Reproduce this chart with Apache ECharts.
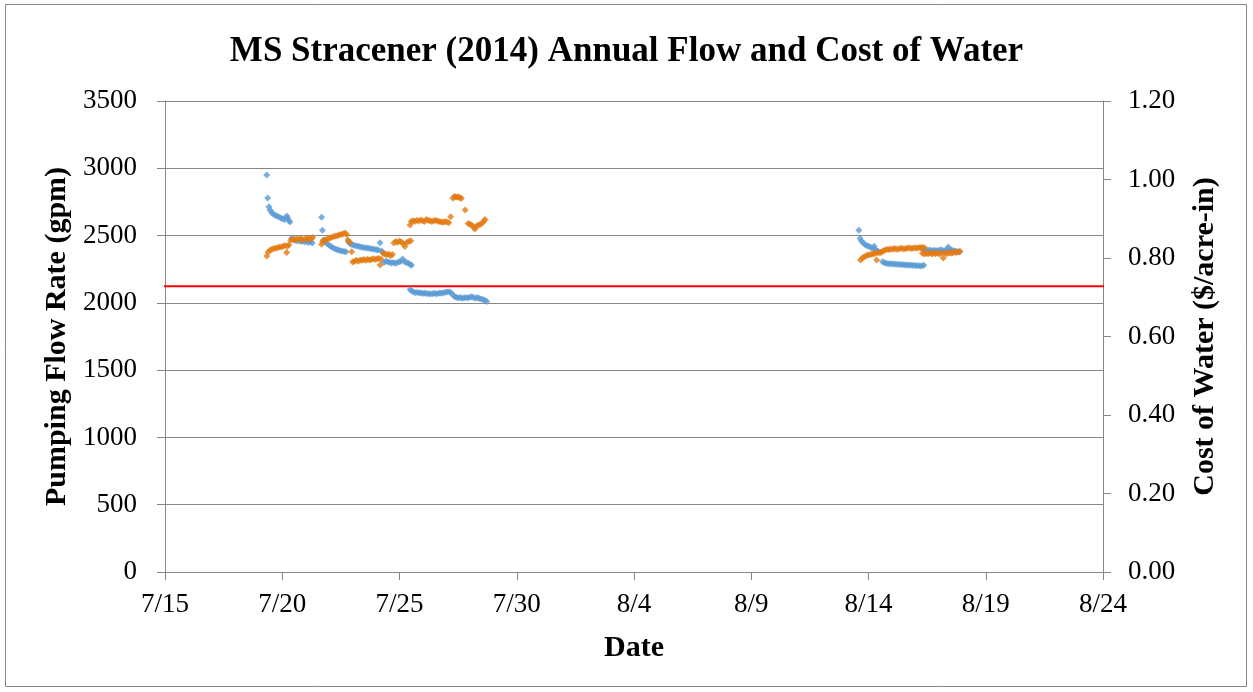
<!DOCTYPE html>
<html>
<head>
<meta charset="utf-8">
<script src="https://cdn.jsdelivr.net/npm/echarts@6/dist/echarts.min.js"></script>
<style>
  html, body { margin: 0; padding: 0; background: #ffffff; }
  #chart { width: 1253px; height: 692px; }
</style>
</head>
<body>
<div id="chart"></div>
<script>
// Time is counted in days from 2014-07-15 00:00.
const startDate = [2014, 6, 15];

// Pumping flow rate (gpm), July run
const flowJul = [
  [4.34, 2950], [4.38, 2780], [4.43, 2715], [4.48, 2690], [4.55, 2672], [4.62, 2660],
  [4.70, 2650], [4.78, 2645], [4.86, 2638], [4.94, 2630], [5.02, 2625], [5.10, 2620],
  [5.19, 2645], [5.23, 2632], [5.28, 2612], [5.33, 2600],
  [5.40, 2480], [5.48, 2472], [5.56, 2465], [5.64, 2460], [5.72, 2466], [5.80, 2456],
  [5.88, 2460], [5.96, 2452], [6.04, 2458], [6.12, 2448], [6.20, 2454], [6.28, 2445],
  [6.68, 2636], [6.71, 2540], [6.76, 2468], [6.84, 2452], [6.92, 2440], [7.00, 2428],
  [7.08, 2418], [7.16, 2410], [7.24, 2402], [7.32, 2396], [7.40, 2392], [7.48, 2388],
  [7.56, 2385], [7.64, 2382], [7.72, 2380],
  [7.82, 2455], [7.90, 2440], [7.98, 2432], [8.06, 2428], [8.14, 2425], [8.22, 2420],
  [8.30, 2418], [8.38, 2414], [8.46, 2412], [8.54, 2410], [8.62, 2408], [8.70, 2405],
  [8.78, 2402], [8.86, 2400], [8.94, 2398], [9.02, 2395], [9.10, 2392], [9.17, 2447],
  [9.24, 2385], [9.30, 2370],
  [9.34, 2300], [9.42, 2310], [9.50, 2305], [9.58, 2300], [9.66, 2296], [9.74, 2300],
  [9.82, 2295], [9.90, 2298], [9.98, 2305], [10.06, 2310], [10.14, 2325], [10.22, 2305],
  [10.30, 2300], [10.38, 2295], [10.46, 2285], [10.51, 2280],
  [10.45, 2100], [10.52, 2088], [10.60, 2080], [10.68, 2076], [10.76, 2078], [10.84, 2073],
  [10.92, 2076], [11.00, 2070], [11.08, 2073], [11.16, 2068], [11.24, 2070], [11.32, 2066],
  [11.40, 2068], [11.48, 2072], [11.56, 2068], [11.64, 2070], [11.72, 2074], [11.80, 2072],
  [11.88, 2076], [11.96, 2078], [12.04, 2080], [12.12, 2082], [12.20, 2076],
  [12.28, 2058], [12.36, 2045], [12.44, 2040], [12.52, 2038], [12.60, 2040], [12.68, 2035],
  [12.76, 2038], [12.84, 2040], [12.92, 2036], [13.00, 2042], [13.08, 2045], [13.16, 2040],
  [13.24, 2035], [13.32, 2040], [13.40, 2032], [13.48, 2028], [13.56, 2025], [13.64, 2020],
  [13.72, 2010]
];

// Pumping flow rate (gpm), August run
const flowAug = [
  [29.59, 2540], [29.64, 2480], [29.70, 2460], [29.78, 2445], [29.86, 2432], [29.94, 2425],
  [30.02, 2420], [30.10, 2412], [30.18, 2405], [30.24, 2420], [30.30, 2395], [30.36, 2388],
  [30.42, 2382],
  [30.60, 2305], [30.68, 2298], [30.76, 2294], [30.84, 2291], [30.92, 2290], [31.00, 2291],
  [31.08, 2287], [31.16, 2289], [31.24, 2285], [31.32, 2287], [31.40, 2283], [31.48, 2285],
  [31.56, 2281], [31.64, 2284], [31.72, 2279], [31.80, 2281], [31.88, 2277], [31.96, 2279],
  [32.04, 2275], [32.12, 2277], [32.20, 2274], [32.28, 2276], [32.36, 2280],
  [32.30, 2398], [32.38, 2394], [32.46, 2392], [32.54, 2390], [32.62, 2392], [32.70, 2388],
  [32.78, 2390], [32.86, 2387], [32.94, 2389], [33.02, 2391], [33.10, 2395], [33.18, 2387],
  [33.26, 2388], [33.34, 2392], [33.40, 2415], [33.48, 2394], [33.56, 2390], [33.64, 2387],
  [33.72, 2384], [33.80, 2380], [33.88, 2377]
];

// Cost of water ($/acre-in), July run
const costJul = [
  [4.34, 0.805], [4.40, 0.815], [4.48, 0.820], [4.56, 0.822], [4.64, 0.824], [4.72, 0.825],
  [4.80, 0.826], [4.88, 0.828], [4.96, 0.828], [5.04, 0.830], [5.12, 0.832], [5.19, 0.814],
  [5.22, 0.830], [5.28, 0.834],
  [5.36, 0.845], [5.44, 0.848], [5.52, 0.846], [5.60, 0.849], [5.68, 0.847], [5.76, 0.850],
  [5.84, 0.848], [5.92, 0.846], [6.00, 0.849], [6.08, 0.851], [6.16, 0.848], [6.24, 0.850],
  [6.30, 0.852],
  [6.68, 0.835], [6.72, 0.842], [6.80, 0.845], [6.88, 0.847], [6.96, 0.849], [7.04, 0.851],
  [7.12, 0.853], [7.20, 0.855], [7.28, 0.856], [7.36, 0.857], [7.44, 0.859], [7.52, 0.860],
  [7.60, 0.862], [7.68, 0.864], [7.75, 0.860],
  [7.80, 0.846], [7.88, 0.840], [7.96, 0.816],
  [8.00, 0.790], [8.08, 0.792], [8.16, 0.794], [8.24, 0.792], [8.32, 0.795], [8.40, 0.794],
  [8.48, 0.796], [8.56, 0.794], [8.64, 0.797], [8.72, 0.795], [8.80, 0.796], [8.88, 0.798],
  [8.96, 0.796], [9.04, 0.798], [9.12, 0.799], [9.17, 0.782], [9.22, 0.797],
  [9.31, 0.812], [9.38, 0.810], [9.46, 0.808], [9.54, 0.810], [9.62, 0.806], [9.70, 0.809],
  [9.76, 0.838], [9.84, 0.842], [9.92, 0.840], [10.00, 0.843], [10.08, 0.841], [10.16, 0.836],
  [10.23, 0.829], [10.32, 0.840], [10.40, 0.842], [10.48, 0.844],
  [10.45, 0.884], [10.50, 0.893], [10.58, 0.895], [10.66, 0.893], [10.74, 0.896], [10.82, 0.894],
  [10.90, 0.897], [10.98, 0.895], [11.06, 0.893], [11.14, 0.898], [11.22, 0.896], [11.30, 0.895],
  [11.38, 0.893], [11.46, 0.895], [11.54, 0.896], [11.62, 0.894], [11.70, 0.893], [11.78, 0.892],
  [11.86, 0.891], [11.94, 0.893], [12.02, 0.892], [12.10, 0.890], [12.18, 0.905],
  [12.28, 0.952], [12.34, 0.957], [12.40, 0.956], [12.46, 0.955], [12.52, 0.956], [12.58, 0.953],
  [12.64, 0.952], [12.80, 0.922],
  [12.93, 0.888], [13.00, 0.886], [13.08, 0.884], [13.16, 0.878], [13.22, 0.874], [13.30, 0.882],
  [13.38, 0.884], [13.46, 0.886], [13.54, 0.890], [13.60, 0.894], [13.65, 0.898]
];

// Cost of water ($/acre-in), August run
const costAug = [
  [29.66, 0.795], [29.74, 0.800], [29.82, 0.803], [29.90, 0.805], [29.98, 0.808], [30.06, 0.808],
  [30.14, 0.810], [30.22, 0.811], [30.30, 0.812], [30.35, 0.795], [30.42, 0.813], [30.50, 0.814],
  [30.56, 0.815],
  [30.62, 0.818], [30.70, 0.820], [30.78, 0.822], [30.86, 0.821], [30.94, 0.823], [31.02, 0.822],
  [31.10, 0.824], [31.18, 0.823], [31.26, 0.822], [31.34, 0.824], [31.42, 0.825], [31.50, 0.823],
  [31.58, 0.824], [31.66, 0.825], [31.74, 0.826], [31.82, 0.824], [31.90, 0.825], [31.98, 0.826],
  [32.06, 0.825], [32.14, 0.827], [32.22, 0.826], [32.30, 0.827], [32.38, 0.826],
  [32.30, 0.812], [32.38, 0.810], [32.46, 0.812], [32.54, 0.811], [32.62, 0.813], [32.70, 0.810],
  [32.78, 0.812], [32.86, 0.811], [32.94, 0.813], [33.02, 0.810], [33.10, 0.812], [33.19, 0.800],
  [33.26, 0.813], [33.34, 0.811], [33.42, 0.814], [33.50, 0.812], [33.58, 0.813], [33.66, 0.815],
  [33.74, 0.814], [33.82, 0.816], [33.90, 0.817]
];

// Reference cost level ($/acre-in) and the day span of its line
const referenceCost = 0.728;
const referenceSpan = [-0.3, 40.85];

// Axis ranges and ticks
const dayRange = [0, 40], dayStep = 5;
const flowRange = [0, 3500], flowStep = 500;
const costRange = [0, 1.2], costStep = 0.2;

const axisGray = '#868686';
const serif = '"Liberation Serif", "DejaVu Serif", serif';

function dayLabel(v) {
  const d = new Date(startDate[0], startDate[1], startDate[2] + Math.round(v));
  return (d.getMonth() + 1) + '/' + d.getDate();
}

const chart = echarts.init(document.getElementById('chart'), null, { renderer: 'canvas' });

const nameStyle = { fontFamily: serif, fontWeight: 'bold', fontSize: 30, color: '#000' };
const tickStyle = { fontFamily: serif, fontSize: 27, color: '#000' };

chart.setOption({
  backgroundColor: '#ffffff',
  animation: false,
  textStyle: { fontFamily: serif },
  title: {
    text: 'MS Stracener (2014) Annual Flow and Cost of Water',
    left: 'center',
    top: 29,
    textStyle: { fontFamily: serif, fontWeight: 'bold', fontSize: 35, color: '#000' }
  },
  graphic: [{
    type: 'rect',
    shape: { x: 5.5, y: 4.5, width: 1241, height: 682 },
    style: { fill: 'none', stroke: axisGray, lineWidth: 1 },
    silent: true,
    z: -1
  }],
  grid: { left: 165, right: 150, top: 101, bottom: 120 },
  xAxis: {
    type: 'value',
    min: dayRange[0], max: dayRange[1], interval: dayStep,
    name: 'Date',
    nameLocation: 'middle',
    nameGap: 61,
    nameTextStyle: nameStyle,
    axisLine: { lineStyle: { color: axisGray, width: 1 } },
    axisTick: { show: true, length: 8, inside: false, lineStyle: { color: axisGray } },
    axisLabel: Object.assign({ formatter: dayLabel, margin: 19 }, tickStyle),
    splitLine: { show: false }
  },
  yAxis: [{
    type: 'value',
    min: flowRange[0], max: flowRange[1], interval: flowStep,
    name: 'Pumping Flow Rate (gpm)',
    nameLocation: 'middle',
    nameGap: 90,
    nameTextStyle: nameStyle,
    axisLine: { show: true, lineStyle: { color: axisGray, width: 1 } },
    axisTick: { show: true, length: 8, lineStyle: { color: axisGray } },
    axisLabel: Object.assign({ formatter: v => String(v), margin: 28 }, tickStyle),
    splitLine: { show: true, lineStyle: { color: axisGray, width: 1 } }
  }, {
    type: 'value',
    position: 'right',
    min: costRange[0], max: costRange[1], interval: costStep,
    name: 'Cost of Water ($/acre-in)',
    nameLocation: 'middle',
    nameGap: 87,
    nameRotate: 90,
    nameTextStyle: nameStyle,
    axisLine: { show: true, lineStyle: { color: axisGray, width: 1 } },
    axisTick: { show: true, length: 8, lineStyle: { color: axisGray } },
    axisLabel: Object.assign({ formatter: v => v.toFixed(2), margin: 25 }, tickStyle),
    splitLine: { show: false }
  }],
  series: [{
    name: 'Flow Rate',
    type: 'scatter',
    yAxisIndex: 0,
    symbol: 'diamond',
    symbolSize: 7,
    itemStyle: { color: '#5B9BD5' },
    data: flowJul.concat(flowAug)
  }, {
    name: 'Cost of Water',
    type: 'scatter',
    yAxisIndex: 1,
    symbol: 'diamond',
    symbolSize: 7,
    itemStyle: { color: '#E37A12' },
    data: costJul.concat(costAug)
  }, {
    name: 'Reference Cost',
    type: 'line',
    yAxisIndex: 1,
    clip: false,
    symbol: 'none',
    lineStyle: { color: '#FF0000', width: 2 },
    data: referenceSpan.map(d => [d, referenceCost]),
    z: 1
  }]
});
</script>
</body>
</html>
